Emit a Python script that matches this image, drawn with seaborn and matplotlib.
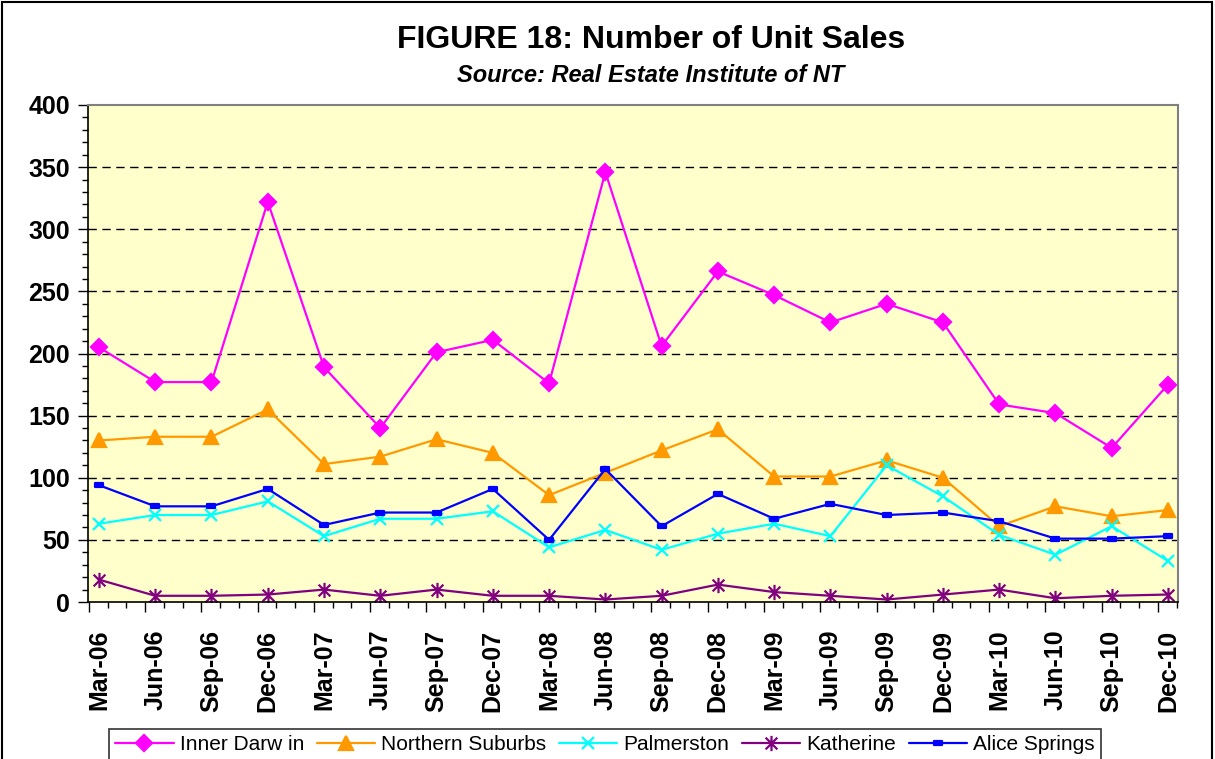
import matplotlib
matplotlib.use("Agg")
import matplotlib.pyplot as plt
from matplotlib.path import Path
from matplotlib.patches import Rectangle
from matplotlib.ticker import FixedLocator
import seaborn as sns
import numpy as np

quarters = ["Mar-06", "Jun-06", "Sep-06", "Dec-06", "Mar-07", "Jun-07", "Sep-07", "Dec-07",
            "Mar-08", "Jun-08", "Sep-08", "Dec-08", "Mar-09", "Jun-09", "Sep-09", "Dec-09",
            "Mar-10", "Jun-10", "Sep-10", "Dec-10"]

inner_darwin = [205, 177, 177, 322, 189, 140, 201, 211, 176, 346, 206, 266, 247, 225, 240, 225, 159, 152, 124, 175]
northern_suburbs = [130, 133, 133, 155, 111, 117, 131, 120, 86, 104, 122, 139, 101, 101, 114, 100, 61, 77, 69, 74]
palmerston = [63, 70, 70, 81, 53, 67, 67, 73, 44, 58, 42, 55, 63, 53, 110, 85, 54, 38, 61, 33]
katherine = [18, 5, 5, 6, 10, 5, 10, 5, 5, 2, 5, 14, 8, 5, 2, 6, 10, 3, 5, 6]
alice_springs = [94, 77, 77, 91, 62, 72, 72, 91, 50, 107, 61, 87, 67, 79, 70, 72, 65, 51, 51, 53]

# excel-ish markers
asterisk = Path([(-1, -1), (1, 1), (-1, 1), (1, -1), (0, -1.3), (0, 1.3)],
                [Path.MOVETO, Path.LINETO, Path.MOVETO, Path.LINETO, Path.MOVETO, Path.LINETO])
dash = Path([(-1, -0.5), (1, -0.5), (1, 0.5), (-1, 0.5), (-1, -0.5)],
            [Path.MOVETO, Path.LINETO, Path.LINETO, Path.LINETO, Path.CLOSEPOLY])

series = [
    ("Inner Darw in", inner_darwin, "#FF00FF", "D", 8),
    ("Northern Suburbs", northern_suburbs, "#FF9900", "^", 10),
    ("Palmerston", palmerston, "#00FFFF", "x", 9),
    ("Katherine", katherine, "#800080", asterisk, 11),
    ("Alice Springs", alice_springs, "#0000FF", dash, 6),
]

sns.set_style("white")
plt.rcParams["font.family"] = ["Liberation Sans", "DejaVu Sans"]
plt.rcParams.update({"text.color": "black", "xtick.color": "black", "ytick.color": "black",
                     "axes.labelcolor": "black"})

fig = plt.figure(figsize=(12.15, 7.59), dpi=100)
ax = fig.add_axes([88 / 1215, 157 / 759, 1090 / 1215, 497 / 759])
ax.set_facecolor("#FFFFCC")

x = np.arange(len(quarters))
for name, vals, col, mk, ms in series:
    sns.lineplot(x=x, y=vals, ax=ax, color=col, marker=mk, markersize=ms,
                 markerfacecolor=col, markeredgecolor=col, markeredgewidth=1.6,
                 linewidth=1.6, label=name)

ax.set_xlim(-0.195, 19.178)
ax.set_ylim(0, 400)

# y axis
ax.set_yticks(np.arange(0, 401, 50))
ax.yaxis.set_minor_locator(FixedLocator(np.arange(0, 401, 10)))
ax.tick_params(axis="y", which="major", direction="out", length=7, width=1, labelsize=18, pad=6, left=True)
ax.tick_params(axis="y", which="minor", direction="out", length=4, width=1, left=True)
for lab in ax.get_yticklabels():
    lab.set_fontweight("bold")

# dashed gridlines
for v in range(50, 400, 50):
    ax.axhline(v, color="black", lw=1.0, dashes=(6, 4), zorder=0.5)

# x axis: long ticks every quarter, short monthly ticks, labels under each point
ax.set_xticks(x - 0.18)
ax.set_xticklabels([])
ax.xaxis.set_minor_locator(FixedLocator(np.arange(-0.18, 19.2, 1 / 3)))
ax.tick_params(axis="x", which="major", direction="out", length=7, width=1, bottom=True)
ax.tick_params(axis="x", which="minor", direction="out", length=4, width=1, bottom=True)

sec = ax.secondary_xaxis("bottom")
sec.set_xticks(x)
sec.set_xticklabels(quarters, rotation=90, fontsize=18, fontweight="bold")
sec.tick_params(length=0, pad=20)
sec.spines["bottom"].set_visible(False)

for side in ["left", "bottom"]:
    ax.spines[side].set_color("black")
    ax.spines[side].set_linewidth(1.2)
for side in ["top", "right"]:
    ax.spines[side].set_color("#808080")
    ax.spines[side].set_linewidth(1.5)

ax.set_xlabel("")
ax.set_ylabel("")

handles, labels = ax.get_legend_handles_labels()
ax.legend_.remove()
leg = fig.legend(handles, labels, loc="upper center", bbox_to_anchor=(605 / 1215, 1 - 729 / 759),
                 ncol=5, frameon=True, fancybox=False, edgecolor="black", fontsize=15,
                 handlelength=2.8, handletextpad=0.3, columnspacing=0.6, borderpad=0.3,
                 borderaxespad=0)
leg.get_frame().set_linewidth(1.2)

fig.text(651 / 1215, 1 - 48 / 759, "FIGURE 18: Number of Unit Sales", ha="center", va="baseline",
         fontsize=23, fontweight="bold")
fig.text(651 / 1215, 1 - 82 / 759, "Source: Real Estate Institute of NT", ha="center", va="baseline",
         fontsize=17, fontweight="bold", fontstyle="italic")

fig.patches.append(Rectangle((2 / 1215, -0.05), 1210 / 1215, 1.05 - 2 / 759, transform=fig.transFigure,
                             fill=False, edgecolor="black", linewidth=1.5))

fig.savefig("out.png", dpi=100)
plt.close()
